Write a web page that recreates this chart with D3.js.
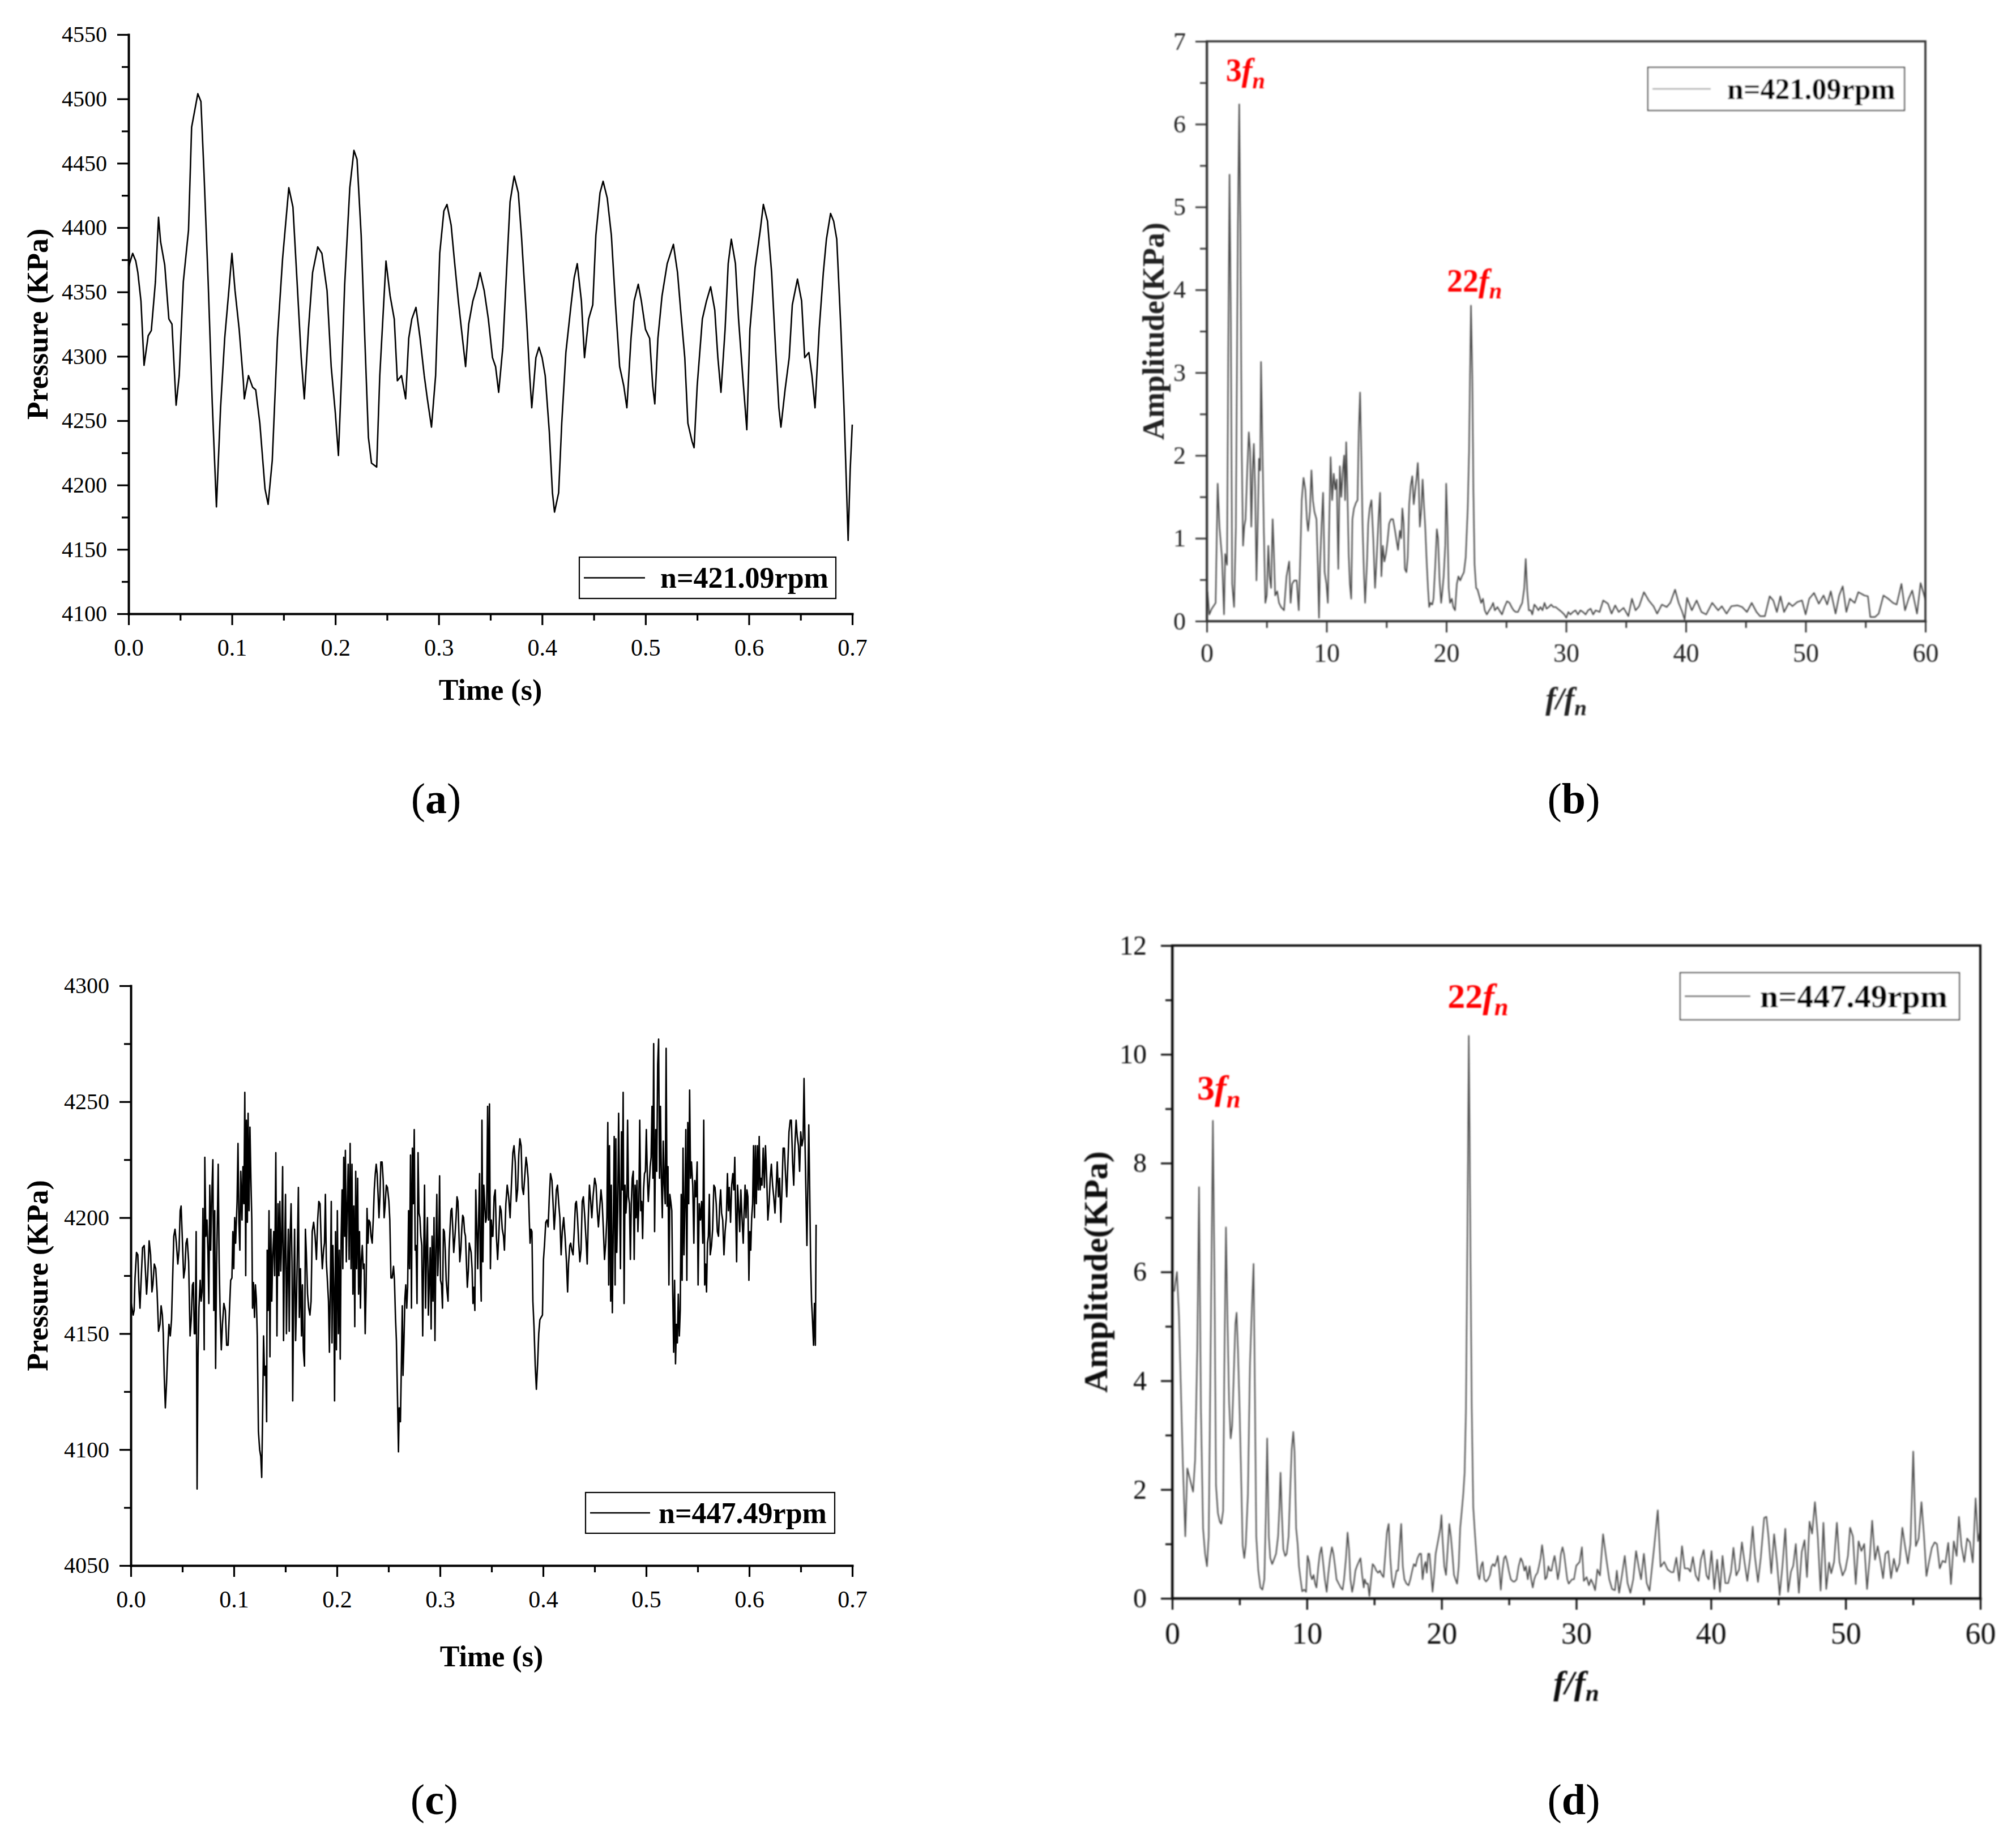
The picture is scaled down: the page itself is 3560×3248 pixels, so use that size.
<!DOCTYPE html>
<html>
<head>
<meta charset="utf-8">
<script src="https://cdn.jsdelivr.net/npm/d3@7"></script>
<style>
  body { margin: 0; background: #fff; }
</style>
</head>
<body>
<script>
// ---------- data ----------
// (a) pressure vs time, n = 421.09 rpm  [t (s), p (KPa)]
const pressureA = [
  [0.000,4368],[0.001,4372],[0.004,4380],[0.007,4374],[0.009,4365],[0.012,4343],[0.015,4293],[0.019,4316],
  [0.022,4320],[0.026,4358],[0.029,4408],[0.031,4389],[0.035,4371],[0.039,4329],[0.042,4325],[0.046,4262],
  [0.049,4285],[0.053,4358],[0.058,4398],[0.061,4478],[0.067,4504],[0.070,4498],[0.073,4442],[0.077,4358],
  [0.081,4263],[0.085,4183],[0.089,4260],[0.093,4314],[0.097,4351],[0.100,4380],[0.103,4351],[0.107,4321],
  [0.111,4281],[0.112,4267],[0.116,4285],[0.120,4276],[0.123,4274],[0.127,4248],[0.132,4197],[0.135,4185],
  [0.139,4219],[0.144,4314],[0.149,4376],[0.155,4431],[0.159,4416],[0.163,4358],[0.167,4299],[0.170,4267],
  [0.174,4321],[0.178,4365],[0.183,4385],[0.187,4380],[0.192,4351],[0.196,4292],[0.200,4256],[0.203,4223],
  [0.206,4285],[0.209,4355],[0.214,4431],[0.218,4460],[0.221,4453],[0.225,4394],[0.229,4303],[0.232,4237],
  [0.235,4217],[0.240,4214],[0.243,4285],[0.249,4374],[0.253,4347],[0.257,4329],[0.260,4281],[0.264,4285],
  [0.268,4267],[0.271,4314],[0.274,4329],[0.278,4338],[0.282,4314],[0.286,4285],[0.289,4267],[0.293,4245],
  [0.297,4285],[0.301,4380],[0.305,4413],[0.308,4418],[0.312,4402],[0.315,4376],[0.319,4343],[0.322,4321],
  [0.326,4292],[0.329,4325],[0.333,4343],[0.337,4354],[0.340,4365],[0.344,4351],[0.348,4329],[0.352,4299],
  [0.355,4292],[0.358,4272],[0.362,4307],[0.366,4372],[0.369,4420],[0.373,4440],[0.377,4427],[0.380,4394],
  [0.385,4329],[0.388,4285],[0.390,4260],[0.394,4299],[0.397,4307],[0.400,4299],[0.403,4285],[0.407,4241],
  [0.410,4194],[0.412,4179],[0.416,4194],[0.419,4248],[0.423,4303],[0.428,4340],[0.431,4361],[0.434,4372],
  [0.438,4343],[0.441,4299],[0.445,4329],[0.449,4340],[0.452,4394],[0.456,4427],[0.459,4436],[0.463,4423],
  [0.467,4394],[0.471,4340],[0.475,4292],[0.479,4277],[0.482,4260],[0.486,4314],[0.489,4343],[0.493,4356],
  [0.496,4343],[0.500,4321],[0.504,4314],[0.507,4277],[0.509,4263],[0.512,4314],[0.516,4347],[0.521,4372],
  [0.527,4387],[0.531,4365],[0.534,4336],[0.538,4299],[0.541,4248],[0.545,4234],[0.547,4229],[0.550,4277],
  [0.555,4329],[0.559,4343],[0.563,4354],[0.567,4336],[0.570,4299],[0.573,4272],[0.577,4321],[0.580,4372],
  [0.583,4391],[0.587,4372],[0.590,4329],[0.594,4285],[0.598,4243],[0.601,4321],[0.606,4369],[0.611,4398],
  [0.614,4418],[0.618,4405],[0.622,4365],[0.626,4303],[0.629,4260],[0.631,4245],[0.635,4274],[0.639,4299],
  [0.642,4340],[0.647,4360],[0.651,4343],[0.654,4299],[0.658,4303],[0.661,4285],[0.664,4260],[0.668,4321],
  [0.672,4365],[0.675,4391],[0.679,4411],[0.682,4405],[0.685,4391],[0.689,4321],[0.692,4260],[0.695,4183],
  [0.696,4157],[0.698,4212],[0.700,4247]
];

// (c) pressure vs time, n = 447.49 rpm  [t (s), p (KPa)]
const pressureC = [
  [0.0005,4163],[0.0023,4158],[0.0032,4160],[0.0041,4174],[0.0055,4185],[0.0068,4184],[0.0080,4168],[0.0089,4161],
  [0.0100,4173],[0.0114,4187],[0.0130,4188],[0.0141,4178],[0.0153,4167],[0.0164,4175],[0.0178,4190],[0.0192,4184],
  [0.0205,4168],[0.0214,4171],[0.0228,4180],[0.0242,4178],[0.0255,4168],[0.0269,4151],[0.0283,4154],[0.0294,4162],
  [0.0306,4158],[0.0315,4150],[0.0324,4132],[0.0335,4118],[0.0347,4129],[0.0358,4143],[0.0370,4154],[0.0383,4149],
  [0.0395,4156],[0.0406,4174],[0.0417,4192],[0.0429,4195],[0.0442,4189],[0.0456,4180],[0.0468,4186],[0.0479,4203],
  [0.0488,4205],[0.0499,4192],[0.0513,4174],[0.0525,4178],[0.0536,4189],[0.0547,4191],[0.0561,4181],[0.0575,4149],
  [0.0586,4156],[0.0598,4171],[0.0607,4172],[0.0616,4150],[0.0625,4150],[0.0634,4194],[0.0643,4083],[0.0652,4140],
  [0.0661,4161],[0.0673,4173],[0.0682,4164],[0.0691,4168],[0.0700,4204],[0.0712,4143],[0.0718,4226],[0.0728,4192],
  [0.0739,4199],[0.0748,4186],[0.0757,4163],[0.0766,4214],[0.0775,4186],[0.0785,4209],[0.0796,4225],[0.0805,4160],
  [0.0814,4203],[0.0823,4135],[0.0832,4180],[0.0842,4205],[0.0848,4223],[0.0857,4181],[0.0867,4158],[0.0878,4143],
  [0.0889,4154],[0.0903,4163],[0.0917,4160],[0.0930,4145],[0.0944,4145],[0.0958,4161],[0.0969,4173],[0.0981,4174],
  [0.0990,4194],[0.0999,4178],[0.1008,4200],[0.1017,4189],[0.1031,4207],[0.1040,4232],[0.1049,4198],[0.1058,4186],
  [0.1067,4220],[0.1079,4199],[0.1088,4222],[0.1097,4206],[0.1106,4254],[0.1115,4175],[0.1122,4242],[0.1131,4198],
  [0.1138,4245],[0.1147,4203],[0.1156,4239],[0.1165,4217],[0.1174,4199],[0.1181,4161],[0.1190,4172],[0.1200,4157],
  [0.1209,4171],[0.1218,4165],[0.1227,4149],[0.1238,4108],[0.1250,4100],[0.1261,4097],[0.1270,4088],[0.1279,4116],
  [0.1288,4149],[0.1298,4132],[0.1309,4136],[0.1318,4112],[0.1323,4186],[0.1332,4160],[0.1341,4203],[0.1350,4140],
  [0.1359,4195],[0.1368,4164],[0.1377,4184],[0.1387,4194],[0.1396,4175],[0.1407,4228],[0.1418,4149],[0.1428,4206],
  [0.1437,4175],[0.1446,4207],[0.1455,4177],[0.1464,4192],[0.1473,4222],[0.1482,4147],[0.1491,4184],[0.1501,4210],
  [0.1510,4150],[0.1519,4175],[0.1528,4195],[0.1537,4151],[0.1546,4192],[0.1555,4206],[0.1564,4181],[0.1571,4121],
  [0.1580,4167],[0.1589,4195],[0.1599,4147],[0.1608,4164],[0.1617,4189],[0.1626,4213],[0.1635,4157],[0.1646,4178],
  [0.1656,4149],[0.1665,4171],[0.1674,4143],[0.1685,4136],[0.1694,4195],[0.1703,4185],[0.1715,4167],[0.1726,4161],
  [0.1738,4158],[0.1749,4164],[0.1760,4194],[0.1774,4198],[0.1788,4192],[0.1801,4182],[0.1813,4199],[0.1824,4207],
  [0.1836,4206],[0.1847,4189],[0.1858,4178],[0.1870,4186],[0.1879,4189],[0.1888,4210],[0.1897,4181],[0.1906,4174],
  [0.1918,4164],[0.1927,4142],[0.1936,4171],[0.1945,4207],[0.1952,4146],[0.1961,4188],[0.1970,4167],[0.1977,4121],
  [0.1986,4194],[0.1995,4143],[0.2004,4203],[0.2014,4150],[0.2023,4186],[0.2032,4139],[0.2041,4192],[0.2050,4212],
  [0.2057,4178],[0.2066,4226],[0.2075,4192],[0.2082,4229],[0.2091,4181],[0.2100,4205],[0.2109,4223],[0.2118,4182],
  [0.2128,4232],[0.2137,4178],[0.2146,4223],[0.2155,4167],[0.2164,4205],[0.2173,4153],[0.2182,4220],[0.2191,4178],
  [0.2201,4217],[0.2210,4167],[0.2219,4194],[0.2228,4161],[0.2237,4182],[0.2246,4188],[0.2255,4178],[0.2264,4180],
  [0.2274,4150],[0.2283,4170],[0.2292,4204],[0.2301,4189],[0.2310,4199],[0.2321,4198],[0.2331,4192],[0.2342,4189],
  [0.2353,4200],[0.2362,4212],[0.2372,4219],[0.2381,4223],[0.2390,4219],[0.2399,4210],[0.2408,4200],[0.2417,4209],
  [0.2426,4224],[0.2438,4224],[0.2449,4216],[0.2458,4200],[0.2467,4205],[0.2479,4214],[0.2490,4213],[0.2504,4207],
  [0.2513,4199],[0.2524,4174],[0.2536,4174],[0.2549,4179],[0.2558,4173],[0.2568,4157],[0.2577,4147],[0.2588,4121],
  [0.2597,4099],[0.2604,4118],[0.2616,4112],[0.2625,4136],[0.2634,4162],[0.2641,4132],[0.2650,4146],[0.2659,4165],
  [0.2668,4171],[0.2677,4161],[0.2686,4170],[0.2695,4203],[0.2704,4178],[0.2714,4227],[0.2723,4161],[0.2732,4230],
  [0.2741,4206],[0.2750,4238],[0.2759,4186],[0.2768,4188],[0.2777,4163],[0.2787,4228],[0.2796,4202],[0.2805,4200],
  [0.2814,4192],[0.2823,4188],[0.2832,4149],[0.2841,4181],[0.2850,4214],[0.2860,4161],[0.2869,4187],[0.2878,4200],
  [0.2887,4158],[0.2896,4173],[0.2905,4187],[0.2914,4152],[0.2923,4192],[0.2932,4164],[0.2942,4200],[0.2951,4147],
  [0.2960,4186],[0.2969,4210],[0.2978,4175],[0.2987,4186],[0.2996,4218],[0.3005,4173],[0.3015,4171],[0.3024,4161],
  [0.3033,4195],[0.3042,4194],[0.3051,4186],[0.3060,4173],[0.3069,4168],[0.3078,4164],[0.3088,4186],[0.3097,4195],
  [0.3106,4203],[0.3115,4204],[0.3124,4195],[0.3133,4185],[0.3145,4192],[0.3156,4200],[0.3165,4209],[0.3174,4207],
  [0.3183,4194],[0.3192,4181],[0.3202,4186],[0.3211,4195],[0.3220,4201],[0.3229,4200],[0.3238,4194],[0.3247,4192],
  [0.3256,4181],[0.3265,4170],[0.3275,4177],[0.3284,4189],[0.3293,4187],[0.3302,4185],[0.3311,4178],[0.3320,4163],
  [0.3329,4170],[0.3338,4160],[0.3347,4212],[0.3357,4195],[0.3366,4178],[0.3375,4200],[0.3384,4219],[0.3391,4178],
  [0.3400,4164],[0.3407,4242],[0.3416,4181],[0.3425,4214],[0.3434,4206],[0.3443,4198],[0.3452,4200],[0.3462,4248],
  [0.3471,4199],[0.3480,4249],[0.3489,4178],[0.3498,4199],[0.3507,4192],
  [0.3513,4192],[0.3525,4209],[0.3536,4212],[0.3547,4192],[0.3559,4182],[0.3570,4192],[0.3582,4205],[0.3593,4203],
  [0.3604,4195],[0.3616,4192],[0.3625,4186],[0.3639,4206],[0.3652,4214],[0.3666,4209],[0.3680,4200],[0.3693,4214],
  [0.3707,4228],[0.3718,4231],[0.3730,4224],[0.3741,4207],[0.3753,4212],[0.3764,4227],[0.3775,4234],[0.3787,4231],
  [0.3798,4213],[0.3810,4210],[0.3821,4217],[0.3835,4226],[0.3844,4223],[0.3855,4217],[0.3867,4198],[0.3874,4189],
  [0.3883,4195],[0.3892,4194],[0.3901,4164],[0.3912,4153],[0.3924,4136],[0.3935,4126],[0.3947,4137],[0.3958,4150],
  [0.3969,4156],[0.3981,4157],[0.3994,4158],[0.4004,4182],[0.4015,4189],[0.4026,4198],[0.4038,4199],[0.4049,4196],
  [0.4061,4209],[0.4072,4219],[0.4086,4216],[0.4097,4206],[0.4108,4195],[0.4118,4202],[0.4129,4212],[0.4140,4214],
  [0.4152,4206],[0.4163,4200],[0.4175,4184],[0.4186,4194],[0.4200,4200],[0.4213,4192],[0.4227,4181],[0.4238,4168],
  [0.4247,4180],[0.4259,4188],[0.4268,4189],[0.4279,4186],[0.4291,4184],[0.4302,4194],[0.4314,4206],[0.4323,4207],
  [0.4334,4200],[0.4346,4189],[0.4357,4181],[0.4368,4186],[0.4380,4207],[0.4391,4209],[0.4405,4200],[0.4419,4189],
  [0.4428,4180],[0.4439,4200],[0.4450,4214],[0.4462,4207],[0.4473,4200],[0.4485,4209],[0.4501,4217],[0.4514,4214],
  [0.4526,4203],[0.4537,4196],[0.4551,4205],[0.4562,4212],[0.4574,4206],[0.4585,4195],[0.4596,4182],[0.4608,4189],
  [0.4619,4200],[0.4628,4241],[0.4637,4171],[0.4644,4231],[0.4656,4164],[0.4662,4214],[0.4672,4159],[0.4681,4195],
  [0.4690,4235],[0.4699,4171],[0.4706,4234],[0.4715,4185],[0.4724,4203],[0.4733,4245],[0.4745,4200],[0.4751,4178],
  [0.4761,4237],[0.4770,4212],[0.4777,4254],[0.4786,4163],[0.4795,4214],[0.4804,4202],[0.4813,4209],[0.4820,4242],
  [0.4829,4209],[0.4838,4206],[0.4847,4182],[0.4856,4206],[0.4865,4217],[0.4875,4220],[0.4884,4182],[0.4893,4214],
  [0.4902,4200],[0.4911,4216],[0.4920,4194],[0.4929,4205],[0.4938,4242],[0.4948,4203],[0.4957,4207],[0.4966,4191],
  [0.4975,4212],[0.4984,4219],[0.4993,4220],[0.5002,4238],[0.5011,4219],[0.5021,4207],[0.5030,4214],[0.5039,4222],
  [0.5048,4226],[0.5057,4248],[0.5066,4217],[0.5073,4275],[0.5082,4194],[0.5093,4238],[0.5103,4220],[0.5112,4266],
  [0.5121,4277],[0.5130,4217],[0.5139,4248],[0.5148,4216],[0.5157,4200],[0.5166,4233],[0.5176,4214],[0.5185,4206],
  [0.5194,4273],[0.5203,4205],[0.5212,4222],[0.5221,4171],[0.5230,4210],[0.5239,4207],[0.5249,4203],[0.5258,4168],
  [0.5267,4142],[0.5276,4173],[0.5285,4137],[0.5294,4154],[0.5303,4146],[0.5312,4167],[0.5322,4149],[0.5331,4160],
  [0.5340,4210],[0.5349,4173],[0.5358,4230],[0.5367,4184],[0.5376,4205],[0.5385,4238],[0.5395,4173],[0.5404,4241],
  [0.5413,4206],[0.5422,4255],[0.5431,4217],[0.5440,4224],[0.5452,4214],[0.5463,4189],[0.5472,4216],[0.5483,4209],
  [0.5495,4224],[0.5504,4171],[0.5515,4206],[0.5527,4199],[0.5538,4207],[0.5550,4189],[0.5559,4242],[0.5568,4171],
  [0.5577,4180],[0.5586,4168],[0.5595,4189],[0.5604,4192],[0.5613,4210],[0.5622,4184],[0.5634,4188],[0.5645,4195],
  [0.5657,4214],[0.5668,4213],[0.5680,4206],[0.5691,4194],[0.5702,4192],[0.5714,4206],[0.5723,4212],[0.5732,4202],
  [0.5743,4199],[0.5755,4184],[0.5766,4194],[0.5778,4200],[0.5789,4219],[0.5798,4203],[0.5807,4213],[0.5819,4198],
  [0.5830,4214],[0.5841,4219],[0.5851,4212],[0.5860,4226],[0.5869,4202],[0.5878,4181],[0.5887,4214],[0.5896,4206],
  [0.5908,4194],[0.5919,4212],[0.5930,4200],[0.5942,4189],[0.5951,4203],[0.5960,4214],[0.5969,4200],[0.5978,4212],
  [0.5987,4209],[0.5997,4173],[0.6006,4194],[0.6015,4186],[0.6024,4200],[0.6033,4206],[0.6042,4231],[0.6051,4200],
  [0.6060,4231],[0.6069,4206],[0.6079,4231],[0.6088,4212],[0.6097,4235],[0.6106,4212],[0.6115,4217],[0.6124,4214],
  [0.6136,4230],[0.6147,4213],[0.6158,4231],[0.6170,4217],[0.6181,4199],[0.6193,4206],[0.6204,4217],[0.6215,4223],
  [0.6227,4214],[0.6238,4209],[0.6250,4202],[0.6261,4212],[0.6272,4224],[0.6284,4209],[0.6295,4217],[0.6307,4198],
  [0.6318,4212],[0.6329,4230],[0.6341,4230],[0.6352,4219],[0.6364,4209],[0.6375,4223],[0.6386,4237],[0.6398,4242],
  [0.6409,4242],[0.6421,4224],[0.6432,4214],[0.6443,4231],[0.6455,4242],[0.6466,4235],[0.6478,4231],[0.6489,4220],
  [0.6500,4237],[0.6512,4231],[0.6523,4234],[0.6532,4260],[0.6542,4231],[0.6551,4209],[0.6560,4188],[0.6569,4214],
  [0.6578,4240],[0.6587,4212],[0.6596,4181],[0.6605,4164],[0.6614,4156],[0.6624,4145],[0.6633,4163],[0.6642,4145],
  [0.6649,4197]
];

// (b) amplitude spectrum, n = 421.09 rpm  [f/fn, KPa]
const spectrumB = [
  [0.06,0.36],[0.21,0.08],[0.42,0.15],[0.74,0.22],[0.91,1.66],[1.06,1.14],[1.27,0.77],[1.44,0.08],[1.54,0.81],
  [1.69,0.68],[1.80,3.42],[1.90,5.39],[2.01,3.61],[2.12,0.45],[2.28,0.17],[2.43,1.14],[2.60,4.80],[2.71,6.24],
  [2.81,4.66],[2.92,2.05],[3.03,0.91],[3.13,1.14],[3.24,1.23],[3.38,1.82],[3.51,2.28],[3.62,2.05],[3.72,1.14],
  [3.83,1.82],[3.93,2.14],[4.04,1.59],[4.15,0.49],[4.25,1.14],[4.36,1.96],[4.46,1.82],[4.53,3.13],[4.63,2.28],
  [4.76,1.14],[4.89,0.22],[5.01,0.31],[5.14,0.91],[5.25,0.54],[5.37,0.40],[5.50,1.23],[5.61,0.81],[5.71,0.31],
  [5.88,0.36],[6.03,0.22],[6.20,0.17],[6.45,0.13],[6.66,0.54],[6.88,0.72],[7.00,0.22],[7.13,0.45],[7.30,0.49],
  [7.51,0.49],[7.68,0.13],[7.79,0.68],[7.93,1.46],[8.08,1.73],[8.23,1.59],[8.36,1.23],[8.46,1.09],[8.61,1.32],
  [8.74,1.82],[8.86,1.46],[8.99,1.32],[9.16,1.23],[9.27,0.68],[9.37,0.04],[9.46,0.68],[9.58,1.14],[9.71,1.55],
  [9.84,0.59],[9.99,0.45],[10.11,0.22],[10.22,1.14],[10.34,1.98],[10.47,1.46],[10.60,1.78],[10.73,1.59],[10.85,1.71],
  [10.98,0.63],[11.11,1.87],[11.23,1.50],[11.36,1.82],[11.47,2.00],[11.55,1.46],[11.64,2.16],[11.74,1.59],[11.85,0.81],
  [11.95,0.45],[12.06,0.27],[12.16,1.23],[12.29,1.36],[12.46,1.43],[12.59,1.46],[12.69,2.28],[12.80,2.76],[12.90,2.05],
  [13.01,1.14],[13.12,0.59],[13.22,0.22],[13.37,0.68],[13.48,1.18],[13.60,1.36],[13.75,1.46],[13.90,1.00],[14.05,0.40],
  [14.17,0.72],[14.34,1.23],[14.47,1.55],[14.58,0.54],[14.70,0.91],[14.83,0.72],[14.96,0.81],[15.08,0.95],[15.23,1.18],
  [15.38,1.23],[15.55,1.23],[15.72,1.09],[15.87,0.95],[15.97,0.86],[16.12,1.09],[16.23,1.00],[16.33,1.36],[16.44,1.18],
  [16.54,0.63],[16.67,0.59],[16.78,0.77],[16.90,1.41],[17.03,1.64],[17.16,1.75],[17.28,1.41],[17.41,1.59],[17.52,1.73],
  [17.62,1.91],[17.71,1.59],[17.79,1.14],[17.92,1.36],[18.02,1.71],[18.13,1.41],[18.24,1.14],[18.36,0.72],[18.47,0.40],
  [18.57,0.17],[18.68,0.22],[18.83,0.20],[18.93,0.27],[19.08,0.68],[19.21,1.11],[19.31,1.00],[19.44,0.49],[19.57,0.22],
  [19.67,0.36],[19.78,0.54],[19.91,0.91],[19.99,1.66],[20.10,1.14],[20.20,0.40],[20.31,0.22],[20.46,0.27],[20.58,0.17],
  [20.73,0.13],[20.88,0.45],[21.01,0.54],[21.16,0.49],[21.30,0.54],[21.47,0.59],[21.62,0.77],[21.79,1.36],[21.90,2.05],
  [21.98,2.97],[22.06,3.81],[22.17,2.97],[22.26,1.59],[22.36,0.68],[22.49,0.40],[22.61,0.38],[22.74,0.31],[22.91,0.22],
  [23.06,0.27],[23.21,0.13],[23.38,0.08],[23.59,0.13],[23.76,0.17],[23.91,0.22],[24.05,0.13],[24.27,0.17],[24.43,0.13],
  [24.65,0.08],[24.86,0.17],[25.07,0.24],[25.28,0.22],[25.45,0.17],[25.62,0.13],[25.81,0.11],[25.98,0.11],[26.17,0.17],
  [26.34,0.22],[26.51,0.40],[26.63,0.75],[26.76,0.36],[26.89,0.13],[27.06,0.13],[27.18,0.08],[27.35,0.20],[27.52,0.17],
  [27.69,0.13],[27.86,0.17],[28.03,0.13],[28.20,0.22],[28.37,0.15],[28.56,0.17],[28.75,0.20],[28.94,0.17],[29.13,0.17],
  [29.30,0.15],[29.47,0.13],[29.64,0.11],[29.85,0.08],[30.02,0.04],[30.19,0.11],[30.36,0.08],[30.57,0.11],[30.78,0.13],
  [30.99,0.08],[31.20,0.13],[31.42,0.11],[31.63,0.08],[31.84,0.13],[32.05,0.15],[32.26,0.08],[32.47,0.13],
  [32.8,0.11],[33.1,0.25],[33.5,0.21],[33.8,0.09],[34.1,0.19],[34.4,0.11],[34.8,0.16],[35.2,0.06],[35.5,0.27],
  [35.8,0.13],[36.1,0.18],[36.5,0.35],[36.9,0.25],[37.3,0.18],[37.6,0.09],[38.0,0.20],[38.4,0.17],[38.7,0.22],
  [39.1,0.38],[39.4,0.22],[39.7,0.11],[39.9,0.02],[40.1,0.28],[40.5,0.13],[40.9,0.25],[41.3,0.11],[41.7,0.08],
  [42.2,0.22],[42.7,0.13],[43.0,0.18],[43.4,0.09],[43.8,0.18],[44.3,0.19],[44.7,0.17],[45.1,0.11],[45.5,0.22],
  [45.9,0.11],[46.2,0.06],[46.6,0.06],[47.0,0.30],[47.3,0.25],[47.6,0.11],[47.9,0.30],[48.2,0.11],[48.6,0.22],
  [48.9,0.18],[49.3,0.23],[49.7,0.25],[50.0,0.08],[50.3,0.27],[50.7,0.34],[51.1,0.21],[51.5,0.31],[51.8,0.20],
  [52.1,0.36],[52.5,0.09],[52.8,0.31],[53.1,0.42],[53.4,0.11],[53.7,0.27],[54.1,0.22],[54.4,0.35],[54.9,0.31],
  [55.2,0.30],[55.4,0.05],[55.8,0.05],[56.1,0.09],[56.5,0.31],[56.9,0.27],[57.3,0.22],[57.6,0.20],[58.0,0.45],
  [58.3,0.13],[58.6,0.27],[58.9,0.37],[59.3,0.09],[59.6,0.46],[59.9,0.31],[60.0,0.25]
];

// (d) amplitude spectrum, n = 447.49 rpm  [f/fn, KPa]
const spectrumD = [
  [0.15,5.64],[0.35,6.00],[0.50,5.21],[0.64,3.88],[0.79,2.47],[0.97,1.14],[1.12,2.39],[1.28,2.23],[1.43,2.08],
  [1.55,1.96],[1.70,2.55],[1.86,4.58],[1.99,7.56],[2.13,3.49],[2.29,1.29],[2.44,0.82],[2.58,0.59],[2.71,1.14],
  [2.87,5.05],[3.02,8.78],[3.14,5.84],[3.25,2.08],[3.39,1.57],[3.53,1.41],[3.64,1.37],[3.78,1.61],[3.87,4.27],
  [3.99,6.82],[4.11,5.05],[4.22,3.64],[4.34,2.94],[4.45,3.17],[4.57,4.11],[4.69,5.05],[4.78,5.25],[4.88,4.58],
  [5.00,3.49],[5.11,2.31],[5.23,0.98],[5.35,0.74],[5.46,0.98],[5.62,1.92],[5.77,4.27],[5.93,5.45],[6.04,6.15],
  [6.12,4.27],[6.24,1.14],[6.39,0.51],[6.55,0.20],[6.70,0.16],[6.84,0.35],[6.95,1.53],[7.05,2.94],[7.17,1.14],
  [7.28,0.74],[7.42,0.63],[7.55,0.71],[7.71,0.82],[7.86,1.14],[7.96,1.68],[8.04,2.31],[8.13,1.61],[8.25,0.90],
  [8.39,0.78],[8.50,0.82],[8.64,1.14],[8.75,1.92],[8.87,2.74],[8.99,3.06],[9.08,2.70],[9.20,1.29],[9.32,0.98],
  [9.41,0.59],[9.53,0.35],[9.65,0.13],[9.80,0.16],[9.94,0.12],[10.05,0.78],[10.17,0.67],[10.27,0.43],[10.38,0.35],
  [10.50,0.43],[10.61,0.27],[10.71,0.20],[10.85,0.59],[10.96,0.82],[11.08,0.94],[11.20,0.67],[11.33,0.35],[11.47,0.12],
  [11.58,0.43],[11.72,0.74],[11.86,0.94],[11.97,0.82],[12.09,0.59],[12.20,0.35],[12.36,0.27],[12.51,0.20],[12.65,0.16],
  [12.76,0.35],[12.90,0.74],[13.02,1.21],[13.13,0.90],[13.23,0.35],[13.36,0.12],[13.48,0.27],[13.60,0.51],[13.71,0.59],
  [13.85,0.67],[13.98,0.74],[14.10,0.43],[14.22,0.20],[14.29,0.35],[14.41,0.27],[14.53,0.27],[14.64,0.04],[14.76,0.35],
  [14.88,0.63],[15.01,0.59],[15.15,0.51],[15.28,0.47],[15.42,0.51],[15.57,0.43],[15.69,0.39],[15.80,0.74],[15.94,1.21],
  [16.07,1.37],[16.19,0.74],[16.31,0.35],[16.42,0.20],[16.54,0.35],[16.66,0.51],[16.77,0.51],[16.89,0.98],[17.00,1.37],
  [17.12,0.59],[17.24,0.35],[17.39,0.27],[17.55,0.24],[17.68,0.35],[17.82,0.51],[17.94,0.63],[18.07,0.59],[18.21,0.74],
  [18.36,0.82],[18.48,0.82],[18.59,0.35],[18.71,0.59],[18.81,0.67],[18.90,0.47],[19.00,0.82],[19.10,0.82],[19.21,0.51],
  [19.33,0.12],[19.45,0.43],[19.56,0.82],[19.68,0.98],[19.80,1.14],[19.91,1.29],[19.99,1.53],[20.06,1.14],[20.20,0.59],
  [20.33,0.43],[20.45,0.90],[20.57,1.37],[20.69,1.14],[20.80,0.82],[20.92,0.43],[21.03,0.35],[21.15,0.27],[21.27,0.59],
  [21.38,1.29],[21.50,1.61],[21.61,1.92],[21.71,2.31],[21.81,3.49],[21.89,5.84],[21.96,8.19],[22.02,10.34],[22.08,8.58],
  [22.16,5.84],[22.24,3.49],[22.35,1.68],[22.47,1.21],[22.58,0.82],[22.70,0.43],[22.81,0.35],[22.93,0.59],[23.05,0.67],
  [23.17,0.35],[23.30,0.31],[23.44,0.35],[23.59,0.43],[23.71,0.59],[23.82,0.63],[23.94,0.59],[24.06,0.67],[24.17,0.78],
  [24.29,0.51],[24.40,0.16],[24.52,0.51],[24.64,0.74],[24.75,0.78],[24.87,0.67],[24.99,0.51],[25.14,0.35],[25.30,0.31],
  [25.43,0.31],[25.57,0.35],[25.72,0.59],[25.88,0.74],[26.01,0.67],[26.15,0.51],[26.26,0.59],[26.40,0.35],[26.53,0.59],
  [26.65,0.35],[26.77,0.20],[26.88,0.35],[27.00,0.43],[27.12,0.47],[27.23,0.59],[27.35,0.74],[27.46,0.98],[27.58,0.74],
  [27.69,0.35],[27.81,0.39],[27.93,0.59],[28.04,0.51],[28.16,0.51],[28.28,0.67],[28.39,0.78],[28.51,0.59],[28.63,0.35],
  [28.74,0.51],[28.86,0.82],[28.98,0.94],[29.09,0.82],[29.21,0.59],[29.33,0.35],[29.44,0.27],[29.56,0.31],[29.69,0.35],
  [29.83,0.35],[30.00,0.60],[30.25,0.67],[30.42,0.94],[30.56,0.32],[30.77,0.39],[30.94,0.24],[31.09,0.35],[31.26,0.26],
  [31.40,0.15],[31.57,0.53],[31.76,0.42],[31.99,1.18],[32.24,0.71],[32.45,0.35],[32.66,0.17],[32.87,0.15],[33.01,0.51],
  [33.18,0.10],[33.39,0.42],[33.60,0.78],[33.81,0.28],[34.02,0.10],[34.23,0.35],[34.44,0.87],[34.64,0.57],[34.81,0.35],
  [35.02,0.82],[35.23,0.28],[35.44,0.14],[35.79,0.96],[36.05,1.62],[36.26,0.58],[36.53,0.67],[36.78,0.53],[37.05,0.48],
  [37.22,0.48],[37.43,0.75],[37.64,0.32],[37.85,0.96],[38.05,0.55],[38.31,0.55],[38.47,0.49],[38.66,0.76],[38.87,0.42],
  [39.08,0.32],[39.25,0.71],[39.46,0.89],[39.67,0.42],[39.83,0.35],[40.04,0.87],[40.25,0.17],[40.46,0.71],[40.67,0.12],
  [40.86,0.78],[41.07,0.28],[41.28,0.28],[41.49,0.49],[41.67,0.93],[41.88,0.42],[42.09,0.53],[42.30,1.03],[42.49,0.67],
  [42.70,0.32],[42.91,0.75],[43.10,1.32],[43.26,0.78],[43.49,0.30],[43.70,0.75],[43.95,1.48],[44.12,1.50],[44.27,1.14],
  [44.48,0.46],[44.69,1.18],[44.90,0.67],[45.10,0.06],[45.31,0.60],[45.52,1.28],[45.73,0.12],[45.94,0.49],[46.11,0.60],
  [46.30,1.00],[46.53,0.10],[46.74,0.85],[46.95,1.07],[47.13,0.39],[47.32,1.41],[47.51,1.19],[47.72,1.77],[47.93,1.14],
  [48.14,0.14],[48.35,1.39],[48.56,0.17],[48.77,0.66],[48.93,0.46],[49.14,0.67],[49.35,1.39],[49.54,0.67],[49.77,0.42],
  [49.98,0.53],[50.17,0.78],[50.33,1.30],[50.54,1.14],[50.75,0.26],[50.96,1.05],[51.17,0.87],[51.38,1.00],[51.59,0.17],
  [51.80,0.78],[51.97,1.43],[52.18,0.71],[52.38,0.96],[52.59,0.67],[52.78,0.37],[52.95,0.82],[53.16,0.87],[53.37,0.37],
  [53.58,0.73],[53.79,0.49],[54.00,0.64],[54.21,1.30],[54.41,0.96],[54.62,0.64],[54.81,1.00],[55.02,2.70],[55.21,0.96],
  [55.42,1.10],[55.63,1.77],[55.82,1.14],[56.00,0.41],[56.19,0.67],[56.40,0.93],[56.61,1.03],[56.78,1.00],[56.99,0.55],
  [57.20,0.69],[57.41,0.66],[57.62,1.02],[57.82,0.26],[58.03,1.05],[58.24,0.78],[58.41,1.50],[58.60,0.96],[58.81,0.67],
  [59.02,1.10],[59.23,1.03],[59.44,0.66],[59.65,1.84],[59.83,1.05],[59.96,1.21]
];

// tick values
const pressureTicksA = [4100, 4150, 4200, 4250, 4300, 4350, 4400, 4450, 4500, 4550];
const pressureTicksC = [4050, 4100, 4150, 4200, 4250, 4300];
const timeTicks = [0, 0.1, 0.2, 0.3, 0.4, 0.5, 0.6, 0.7];
const ampTicksB = [0, 1, 2, 3, 4, 5, 6, 7];
const ampTicksD = [0, 2, 4, 6, 8, 10, 12];
const freqTicks = [0, 10, 20, 30, 40, 50, 60];

// labels
const legendA = "n=421.09rpm";
const legendC = "n=447.49rpm";
const peakLabelsB = [{num: "3", f: 1.6, a: 6.52}, {num: "22", f: 20.05, a: 3.98}];
const peakLabelsD = [{num: "3", f: 1.85, a: 9.17}, {num: "22", f: 20.44, a: 10.86}];

// ---------- drawing ----------
const serif = '"Liberation Serif", "Times New Roman", serif';
const svg = d3.select("body").append("svg")
  .attr("width", 3560).attr("height", 3248)
  .style("display", "block")
  .attr("font-family", serif);

svg.append("defs").append("filter").attr("id", "soft")
  .attr("x", "-5%").attr("y", "-5%").attr("width", "110%").attr("height", "110%")
  .append("feGaussianBlur").attr("stdDeviation", 1.3);

function drawPanel(p) {
  const g = svg.append("g");
  if (p.blur) g.attr("filter", "url(#soft)");
  const b = p.box;
  const x = d3.scaleLinear().domain(p.xDomain).range([b.left, b.right]);
  const y = d3.scaleLinear().domain(p.yDomain).range([b.bottom, b.top]);

  // data line
  g.append("path").datum(p.data)
    .attr("fill", "none")
    .attr("stroke", p.lineColor)
    .attr("stroke-width", p.lineWidth)
    .attr("stroke-linejoin", "round")
    .attr("d", d3.line().x(d => x(d[0])).y(d => y(d[1])));

  // minor ticks (half way between majors)
  const xMid = d3.pairs(p.xTicks, (a, c) => (a + c) / 2);
  const yMid = d3.pairs(p.yTicks, (a, c) => (a + c) / 2);
  const gxm = g.append("g").attr("transform", `translate(0,${b.bottom})`)
    .call(d3.axisBottom(x).tickValues(xMid).tickFormat("").tickSize(p.minorLen).tickSizeOuter(0));
  const gym = g.append("g").attr("transform", `translate(${b.left},0)`)
    .call(d3.axisLeft(y).tickValues(yMid).tickFormat("").tickSize(p.minorLen).tickSizeOuter(0));
  [gxm, gym].forEach(s => {
    s.select(".domain").remove();
    s.attr("color", p.ink).selectAll("line").attr("stroke-width", p.axisWidth * 0.8);
  });

  // major ticks + labels
  const gx = g.append("g").attr("transform", `translate(0,${b.bottom})`)
    .call(d3.axisBottom(x).tickValues(p.xTicks).tickFormat(p.xFormat)
      .tickSize(p.majorLen).tickSizeOuter(0).tickPadding(p.xPad));
  const gy = g.append("g").attr("transform", `translate(${b.left},0)`)
    .call(d3.axisLeft(y).tickValues(p.yTicks).tickFormat(d3.format("d"))
      .tickSize(p.majorLen).tickSizeOuter(0).tickPadding(p.yPad));
  [gx, gy].forEach(s => {
    s.attr("color", p.ink).attr("font-family", serif);
    s.select(".domain").attr("stroke-width", p.axisWidth).attr("stroke-linecap", "square");
    s.selectAll(".tick line").attr("stroke-width", p.axisWidth * 0.8);
  });
  gx.attr("font-size", p.xTickFont).selectAll("text").attr("fill", p.textInk);
  gy.attr("font-size", p.yTickFont).selectAll("text").attr("fill", p.textInk);

  if (p.frame) {
    g.append("rect")
      .attr("x", b.left).attr("y", b.top)
      .attr("width", b.right - b.left).attr("height", b.bottom - b.top)
      .attr("fill", "none").attr("stroke", p.ink).attr("stroke-width", p.axisWidth);
  }

  // axis titles
  g.append("text")
    .attr("transform", `translate(${p.yTitleX},${(b.top + b.bottom) / 2}) rotate(-90)`)
    .attr("text-anchor", "middle").attr("font-weight", "bold")
    .attr("font-size", p.titleFont).attr("fill", p.textInk)
    .text(p.yTitle);

  const xt = g.append("text")
    .attr("x", (b.left + b.right) / 2).attr("y", p.xTitleY)
    .attr("text-anchor", "middle").attr("font-weight", "bold")
    .attr("font-size", p.titleFont).attr("fill", p.textInk);
  if (p.xTitle) {
    xt.text(p.xTitle);
  } else {
    xt.append("tspan").attr("font-style", "italic").text("f/f");
    xt.append("tspan").attr("font-style", "italic").attr("font-size", p.titleFont * 0.72)
      .attr("dy", p.titleFont * 0.2).text("n");
  }

  // legend
  const L = p.legend;
  g.append("rect").attr("x", L.x).attr("y", L.y).attr("width", L.w).attr("height", L.h)
    .attr("fill", "#fff").attr("stroke", p.legendBox).attr("stroke-width", 2.2);
  g.append("line").attr("x1", L.x + 8).attr("x2", L.x + 8 + L.lineLen)
    .attr("y1", L.y + L.h / 2).attr("y2", L.y + L.h / 2)
    .attr("stroke", L.lineColor).attr("stroke-width", 2.6);
  g.append("text").attr("x", L.textX).attr("y", L.y + L.h / 2 + L.font * 0.34)
    .attr("font-size", L.font).attr("font-weight", "bold").attr("fill", "#000")
    .text(L.label);

  // peak annotations
  (p.peaks || []).forEach(pk => {
    const t = g.append("text").attr("x", x(pk.f)).attr("y", y(pk.a))
      .attr("fill", "#ff0000").attr("font-weight", "bold").attr("font-size", p.peakFont);
    t.append("tspan").text(pk.num);
    t.append("tspan").attr("font-style", "italic").text("f");
    t.append("tspan").attr("font-style", "italic").attr("font-size", p.peakFont * 0.72)
      .attr("dy", p.peakFont * 0.22).text("n");
  });

  // caption
  const cap = svg.append("text").attr("x", p.caption.x).attr("y", p.caption.y)
    .attr("text-anchor", "middle").attr("font-size", 76).attr("fill", "#000");
  cap.append("tspan").text("(");
  cap.append("tspan").attr("font-weight", "bold").text(p.caption.letter);
  cap.append("tspan").text(")");
}

const timeCommon = {
  xDomain: [0, 0.7], xTicks: timeTicks, xFormat: d3.format(".1f"),
  lineColor: "#000", lineWidth: 2.6, ink: "#000", textInk: "#000", axisWidth: 4,
  majorLen: 20, minorLen: 12, xPad: 24, yPad: 18, xTickFont: 42, yTickFont: 40, titleFont: 52,
  yTitle: "Pressure (KPa)", xTitle: "Time (s)", legendBox: "#000", frame: false, yTitleX: 84
};

drawPanel(Object.assign({}, timeCommon, {
  box: {left: 227, right: 1505, top: 61, bottom: 1084},
  yDomain: [4100, 4550], yTicks: pressureTicksA, data: pressureA, xTitleY: 1236,
  legend: {x: 1023, y: 984, w: 453, h: 73, lineLen: 108, lineColor: "#000", textX: 1166, font: 52, label: legendA},
  caption: {x: 770, y: 1436, letter: "a"}
}));

drawPanel(Object.assign({}, timeCommon, {
  box: {left: 231, right: 1505, top: 1741, bottom: 2765},
  yDomain: [4050, 4300], yTicks: pressureTicksC, data: pressureC, xTitleY: 2943,
  legend: {x: 1034, y: 2636, w: 440, h: 72, lineLen: 106, lineColor: "#000", textX: 1163, font: 52, label: legendC},
  caption: {x: 767, y: 3204, letter: "c"}
}));

drawPanel({
  box: {left: 2131, right: 3400, top: 73, bottom: 1097},
  xDomain: [0, 60], yDomain: [0, 7], xTicks: freqTicks, yTicks: ampTicksB, xFormat: d3.format("d"),
  data: spectrumB, lineColor: "#4a4a4a", lineWidth: 2.4, ink: "#333", textInk: "#222", axisWidth: 3.6,
  majorLen: 20, minorLen: 12, xPad: 19, yPad: 17, xTickFont: 46, yTickFont: 44, titleFont: 54,
  yTitle: "Amplitude(KPa)", yTitleX: 2055, xTitle: null, xTitleY: 1252, frame: true, blur: true,
  legendBox: "#444",
  legend: {x: 2910, y: 119, w: 453, h: 76, lineLen: 103, lineColor: "#aaa", textX: 3050, font: 52, label: legendA},
  peaks: peakLabelsB, peakFont: 56,
  caption: {x: 2779, y: 1436, letter: "b"}
});

drawPanel({
  box: {left: 2070, right: 3497, top: 1670, bottom: 2823},
  xDomain: [0, 60], yDomain: [0, 12], xTicks: freqTicks, yTicks: ampTicksD, xFormat: d3.format("d"),
  data: spectrumD, lineColor: "#505050", lineWidth: 2.4, ink: "#111", textInk: "#111", axisWidth: 4,
  majorLen: 20, minorLen: 12, xPad: 22, yPad: 25, xTickFont: 54, yTickFont: 48, titleFont: 60,
  yTitle: "Amplitude(KPa)", yTitleX: 1955, xTitle: null, xTitleY: 2992, frame: true, blur: true,
  legendBox: "#444",
  legend: {x: 2967, y: 1718, w: 493, h: 83, lineLen: 116, lineColor: "#555", textX: 3108, font: 58, label: legendC},
  peaks: peakLabelsD, peakFont: 62,
  caption: {x: 2779, y: 3204, letter: "d"}
});
</script>
</body>
</html>
